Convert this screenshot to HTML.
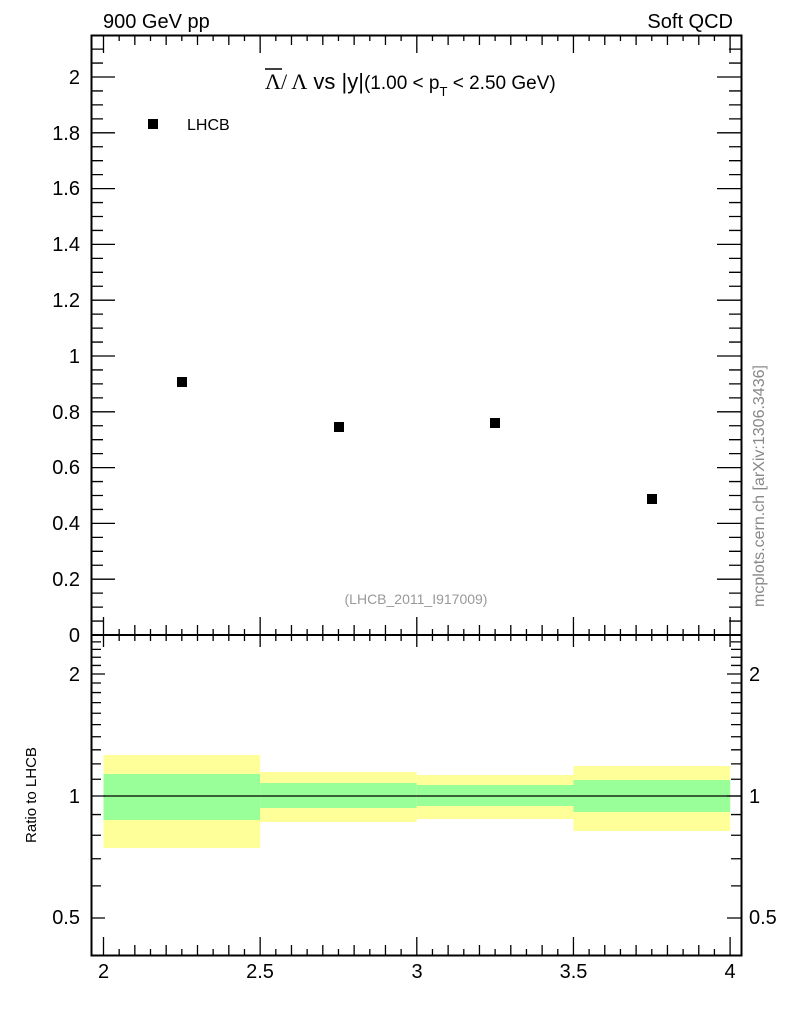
<!DOCTYPE html>
<html><head><meta charset="utf-8"><style>
body{margin:0;background:#fff}
svg{display:block;font-family:"Liberation Sans",sans-serif}
</style></head><body>
<svg id="s" width="786" height="1024" viewBox="0 0 786 1024" xmlns="http://www.w3.org/2000/svg">
<rect width="786" height="1024" fill="#fff"/>
<rect x="103.5" y="755" width="156.7" height="93" fill="#ffff99"/>
<rect x="103.5" y="774" width="156.7" height="46" fill="#99ff99"/>
<rect x="260.2" y="772" width="156.6" height="50" fill="#ffff99"/>
<rect x="260.2" y="783" width="156.6" height="25" fill="#99ff99"/>
<rect x="416.8" y="775" width="156.7" height="44" fill="#ffff99"/>
<rect x="416.8" y="785" width="156.7" height="21" fill="#99ff99"/>
<rect x="573.5" y="766" width="156.7" height="65" fill="#ffff99"/>
<rect x="573.5" y="780" width="156.7" height="32" fill="#99ff99"/>
<line x1="103.5" y1="796" x2="741" y2="796" stroke="#000" stroke-width="1.2"/>
<g id="ticks" stroke="#000" stroke-width="1.3" fill="none"></g>
<rect x="91.5" y="35.5" width="650" height="920" fill="none" stroke="#000" stroke-width="2"/>
<line x1="91" y1="635" x2="742" y2="635" stroke="#000" stroke-width="2"/>
<g fill="#000">
<rect x="177" y="377" width="10" height="10"/>
<rect x="334" y="422" width="10" height="10"/>
<rect x="490" y="418" width="10" height="10"/>
<rect x="647" y="494" width="10" height="10"/>
<rect x="148" y="119" width="10" height="10"/>
</g>
<text x="187" y="130" font-size="16">LHCB</text>
<text x="103" y="28" font-size="20">900 GeV pp</text>
<text x="733" y="28" font-size="20" text-anchor="end">Soft QCD</text>
<g font-size="20" text-anchor="end">
<text x="80" y="642">0</text>
<text x="80" y="586">0.2</text>
<text x="80" y="530">0.4</text>
<text x="80" y="474">0.6</text>
<text x="80" y="419">0.8</text>
<text x="80" y="363">1</text>
<text x="80" y="307">1.2</text>
<text x="80" y="251">1.4</text>
<text x="80" y="195">1.6</text>
<text x="80" y="140">1.8</text>
<text x="80" y="84">2</text>
<text x="80" y="681">2</text>
<text x="80" y="803">1</text>
<text x="80" y="924">0.5</text>
</g>
<g font-size="20">
<text x="749" y="681">2</text>
<text x="749" y="803">1</text>
<text x="749" y="924">0.5</text>
</g>
<g font-size="20" text-anchor="middle">
<text x="103.5" y="978">2</text>
<text x="260" y="978">2.5</text>
<text x="417" y="978">3</text>
<text x="573.5" y="978">3.5</text>
<text x="730" y="978">4</text>
</g>
<text x="265" y="89" font-size="22"><tspan font-family="Liberation Serif,serif">Λ/ Λ</tspan> vs |y|<tspan font-size="19">(1.00 &lt; p</tspan><tspan font-size="13" dy="7">T</tspan><tspan font-size="19" dy="-7"> &lt; 2.50 GeV)</tspan></text>
<line x1="265" y1="69" x2="282" y2="69" stroke="#000" stroke-width="1.5"/>
<text x="416" y="604" font-size="14" fill="#999" text-anchor="middle">(LHCB_2011_I917009)</text>
<text transform="translate(764,486) rotate(-90)" font-size="16" fill="#888" text-anchor="middle">mcplots.cern.ch [arXiv:1306.3436]</text>
<text transform="translate(36,795) rotate(-90)" font-size="15" text-anchor="middle">Ratio to LHCB</text>
</svg>
<script>
var g=document.getElementById('ticks'),p='';
function L(a,b,c,d){p+='M'+a+' '+b+'L'+c+' '+d;}
function X(v){return 103.5+(v-2)*313.3;}
for(var i=0;i<=45;i++){var v=1.95+i*0.05;var x=X(v);if(x<92||x>741)continue;
 var m=Math.abs(Math.round(v*2)-v*2)<1e-6;var md=Math.abs(Math.round(v*10)-v*10)<1e-6;
 var h=m?18:(md?10:6);
 L(x,635,x,635-h);L(x,35,x,35+h);L(x,955,x,955-h);L(x,635,x,635+(m?12:6));}
for(var i=0;i<=44;i++){var v=i*0.05;var y=635-v*279;if(y<36)continue;var m=i%4==0;var h=m?24:12;L(91,y,91+h,y);L(741,y,741-h,y);}
function Y(v){return 796-122*Math.log2(v);}
var rv=[0.4,0.5,0.6,0.7,0.8,0.9,1,1.1,1.2,1.3,1.4,1.5,1.6,1.7,1.8,1.9,2,2.1,2.2,2.3,2.4];
rv.forEach(function(v){var y=Y(v);if(y<636||y>954)return;var m=(v==0.5||v==1||v==2);var h=m?14:10;L(91,y,91+h,y);L(741,y,741-h,y);});
var e=document.createElementNS('http://www.w3.org/2000/svg','path');e.setAttribute('d',p);g.appendChild(e);
</script>
</body></html>
